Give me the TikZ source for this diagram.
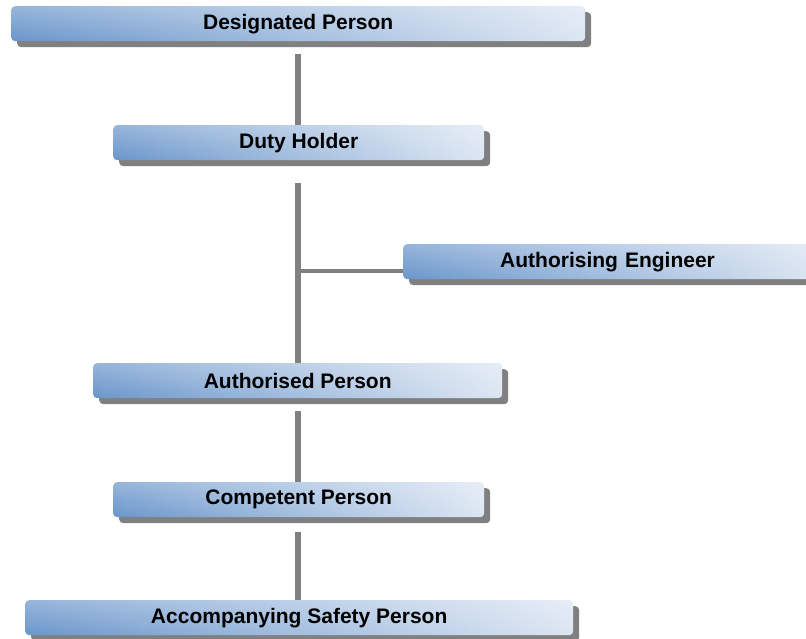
\documentclass[tikz,border=0pt]{standalone}
\usepackage{fontspec}
\setmainfont{Liberation Sans}
\usetikzlibrary{shadows,fadings}
\definecolor{boxdark}{HTML}{6A96CB}
\definecolor{boxmid}{HTML}{A4BDDF}
\definecolor{boxlight}{HTML}{DCE6F3}
\definecolor{linkgray}{HTML}{808080}
% white sheen that is strongest at the top edge of a box
\tikzfading[name=sheen down, top color=transparent!0, bottom color=transparent!100]
\tikzset{
  rolebox/.style={
    rectangle, rounded corners=4pt, anchor=north west, inner sep=0pt,
    minimum height=35pt,
    left color=boxdark, middle color=boxmid, right color=boxlight,
    postaction={fill=white, fill opacity=0.3, path fading=sheen down},
    drop shadow={shadow xshift=6pt, shadow yshift=-6pt, fill=linkgray, opacity=1},
    font=\fontsize{21}{25}\selectfont\bfseries, text=black
  },
  link/.style={draw=linkgray, line width=6pt},
  branch/.style={draw=linkgray, line width=4pt}
}
\begin{document}
\begin{tikzpicture}[x=1pt, y=-1pt]
  \useasboundingbox (0,0) rectangle (806,639);
  % role boxes
  \node[rolebox, minimum width=574pt] (dp) at (11,6)   {Designated Person};
  \node[rolebox, minimum width=371pt] (dh) at (113,125) {Duty Holder};
  \node[rolebox, minimum width=420pt, text width=400pt, align=left] (ae) at (403,244)
       {\hspace*{87pt}Authorising Engineer};
  \node[rolebox, minimum width=409pt] (ap) at (93,363)  {Authorised Person};
  \node[rolebox, minimum width=371pt] (cp) at (113,482) {Competent Person};
  \node[rolebox, minimum width=548pt] (as) at (25,600)  {Accompanying Safety Person};
  % reporting lines
  \coordinate (trunk) at (298,0);
  \draw[link] ([yshift=-13pt]dp.south -| trunk) -- (dh.north -| trunk);
  \draw[link] ([yshift=-23pt]dh.south -| trunk) -- (ap.north -| trunk);
  \draw[branch] (ae.south west -| trunk) ++(0,8pt) coordinate (fork) -- (fork -| ae.west);
  \draw[link] ([yshift=-13pt]ap.south -| trunk) -- (cp.north -| trunk);
  \draw[link] ([yshift=-15pt]cp.south -| trunk) -- (as.north -| trunk);
\end{tikzpicture}
\end{document}
